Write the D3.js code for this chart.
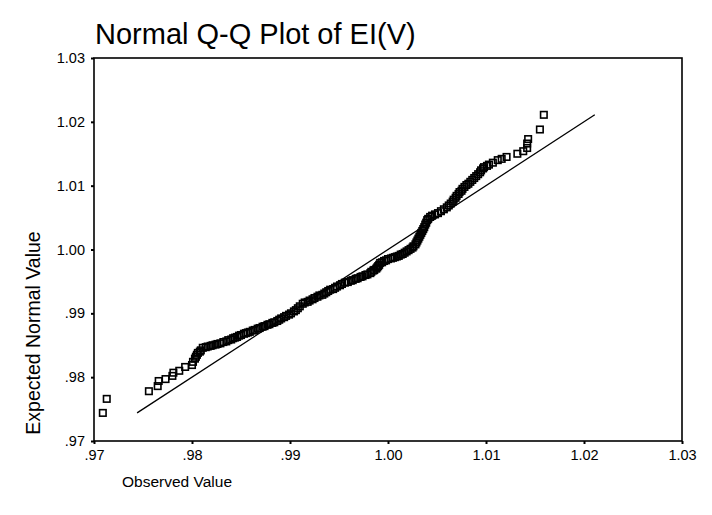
<!DOCTYPE html>
<html>
<head>
<meta charset="utf-8">
<script src="https://cdn.jsdelivr.net/npm/d3@7"></script>
<style>
  html, body { margin: 0; padding: 0; background: #fff; }
  svg { display: block; font-family: Arial, "Liberation Sans", sans-serif; }
</style>
</head>
<body>
<svg id="chart" width="712" height="515"></svg>
<script>
// ---- data ----
const title = "Normal Q-Q Plot of EI(V)";
const xLabel = "Observed Value";
const yLabel = "Expected Normal Value";
const xTicks = [0.97, 0.98, 0.99, 1.00, 1.01, 1.02, 1.03];
const yTicks = [0.97, 0.98, 0.99, 1.00, 1.01, 1.02, 1.03];
const xTickLabels = [".97", ".98", ".99", "1.00", "1.01", "1.02", "1.03"];
const yTickLabels = [".97", ".98", ".99", "1.00", "1.01", "1.02", "1.03"];
// [observed value, expected normal value]
const qqPoints = [
  [.9709,.9744],[.9713,.9766],[.9756,.9778],[.9765,.9786],[.9766,.9794],[.9773,.9797],
  [.9780,.9802],[.9781,.9807],[.9787,.9810],[.9793,.9816],[.9800,.9819],[.9801,.9824],
  [.9803,.9829],[.9804,.9832],[.9805,.9835],[.9806,.9838],[.9808,.9840],[.9809,.9842],
  [.9811,.9846],[.9814,.9847],[.9816,.9848],[.9819,.9849],[.9821,.9850],[.9824,.9851],
  [.9826,.9852],[.9829,.9853],[.9832,.9855],[.9835,.9856],[.9837,.9858],[.9840,.9859],
  [.9842,.9861],[.9844,.9862],[.9846,.9863],[.9848,.9865],[.9850,.9866],[.9853,.9868],
  [.9855,.9869],[.9857,.9870],[.9859,.9871],[.9862,.9873],[.9864,.9874],[.9867,.9876],
  [.9869,.9877],[.9872,.9879],[.9874,.9880],[.9877,.9882],[.9879,.9883],[.9882,.9885],
  [.9884,.9886],[.9887,.9888],[.9889,.9890],[.9891,.9892],[.9894,.9894],[.9896,.9896],
  [.9899,.9898],[.9901,.9900],[.9904,.9903],[.9906,.9905],[.9908,.9908],[.9910,.9911],
  [.9913,.9915],[.9915,.9917],[.9918,.9918],[.9920,.9920],[.9923,.9922],[.9925,.9924],
  [.9928,.9926],[.9930,.9928],[.9933,.9929],[.9935,.9931],[.9937,.9933],[.9939,.9935],
  [.9941,.9937],[.9944,.9938],[.9946,.9940],[.9948,.9942],[.9951,.9944],[.9953,.9946],
  [.9956,.9948],[.9959,.9949],[.9962,.9951],[.9964,.9952],[.9967,.9954],[.9969,.9955],
  [.9972,.9957],[.9974,.9958],[.9977,.9960],[.9979,.9961],[.9982,.9963],[.9983,.9965],
  [.9985,.9967],[.9986,.9968],[.9988,.9970],[.9989,.9972],[.9990,.9974],[.9991,.9976],
  [.9992,.9979],[.9994,.9980],[.9996,.9982],[.9998,.9983],[1.0000,.9985],[1.0003,.9986],
  [1.0005,.9987],[1.0007,.9988],[1.0009,.9989],[1.0011,.9990],[1.0013,.9992],[1.0015,.9993],
  [1.0017,.9995],[1.0019,.9997],[1.0021,.9999],[1.0023,1.0001],[1.0025,1.0003],[1.0026,1.0005],
  [1.0028,1.0008],[1.0029,1.0011],[1.0030,1.0014],[1.0031,1.0017],[1.0032,1.0020],[1.0033,1.0023],
  [1.0034,1.0026],[1.0035,1.0029],[1.0036,1.0032],[1.0037,1.0035],[1.0038,1.0039],[1.0039,1.0042],
  [1.0040,1.0046],[1.0041,1.0048],[1.0043,1.0051],[1.0045,1.0053],[1.0048,1.0055],[1.0051,1.0057],
  [1.0054,1.0060],[1.0057,1.0063],[1.0060,1.0066],[1.0062,1.0069],[1.0064,1.0072],[1.0066,1.0075],
  [1.0067,1.0078],[1.0069,1.0081],[1.0070,1.0084],[1.0072,1.0087],[1.0073,1.0090],[1.0075,1.0092],
  [1.0076,1.0095],[1.0078,1.0098],[1.0080,1.0101],[1.0082,1.0103],[1.0084,1.0106],[1.0086,1.0109],
  [1.0088,1.0112],[1.0090,1.0115],[1.0092,1.0118],[1.0094,1.0121],[1.0095,1.0124],[1.0097,1.0127],
  [1.0098,1.0129],[1.0101,1.0131],[1.0103,1.0133],[1.0107,1.0136],[1.0112,1.0140],[1.0116,1.0142],
  [1.0121,1.0145],[1.0132,1.0150],[1.0138,1.0154],[1.0142,1.0159],[1.0142,1.0166],[1.0143,1.0173],
  [1.0155,1.0188],[1.0159,1.0211]
];
// reference line end points (y = x)
const refLine = [0.9744, 1.0211];

// ---- layout ----
const svg = d3.select("#chart");
const plot = { left: 94, right: 682, top: 58, bottom: 441 };
const x = d3.scaleLinear().domain([0.97, 1.03]).range([plot.left, plot.right]);
const y = d3.scaleLinear().domain([0.97, 1.03]).range([plot.bottom, plot.top]);

// title
svg.append("text").attr("x", 95).attr("y", 44)
  .attr("font-size", 29).attr("fill", "#000").text(title);

// frame
svg.append("rect")
  .attr("x", plot.left).attr("y", plot.top)
  .attr("width", plot.right - plot.left).attr("height", plot.bottom - plot.top)
  .attr("fill", "none").attr("stroke", "#000").attr("stroke-width", 1.6);

// axes
const xAxis = d3.axisBottom(x).tickValues(xTicks).tickSize(3).tickPadding(6)
  .tickFormat((d, i) => xTickLabels[i]);
const yAxis = d3.axisLeft(y).tickValues(yTicks).tickSize(3).tickPadding(6)
  .tickFormat((d, i) => yTickLabels[i]);

const gx = svg.append("g").attr("transform", `translate(0,${plot.bottom})`).call(xAxis);
const gy = svg.append("g").attr("transform", `translate(${plot.left},0)`).call(yAxis);
[gx, gy].forEach(g => {
  g.select(".domain").remove();
  g.selectAll(".tick line").attr("stroke", "#000").attr("stroke-width", 2);
  g.selectAll(".tick text").attr("font-size", 14.5).attr("fill", "#000")
    .attr("font-family", "Arial, 'Liberation Sans', sans-serif");
});

// reference line
svg.append("line")
  .attr("x1", x(refLine[0])).attr("y1", y(refLine[0]))
  .attr("x2", x(refLine[1])).attr("y2", y(refLine[1]))
  .attr("stroke", "#000").attr("stroke-width", 1.3);

// points
const s = 6.5;
svg.append("g").selectAll("rect").data(qqPoints).join("rect")
  .attr("x", d => x(d[0]) - s / 2).attr("y", d => y(d[1]) - s / 2)
  .attr("width", s).attr("height", s)
  .attr("fill", "none")
  .attr("stroke", "#000").attr("stroke-width", 1.6);

// axis titles
svg.append("text").attr("x", 122).attr("y", 487)
  .attr("font-size", 15.5).attr("fill", "#000").text(xLabel);
svg.append("text")
  .attr("transform", `translate(40,333) rotate(-90)`)
  .attr("text-anchor", "middle")
  .attr("font-size", 19.5).attr("fill", "#000").text(yLabel);
</script>
</body>
</html>
